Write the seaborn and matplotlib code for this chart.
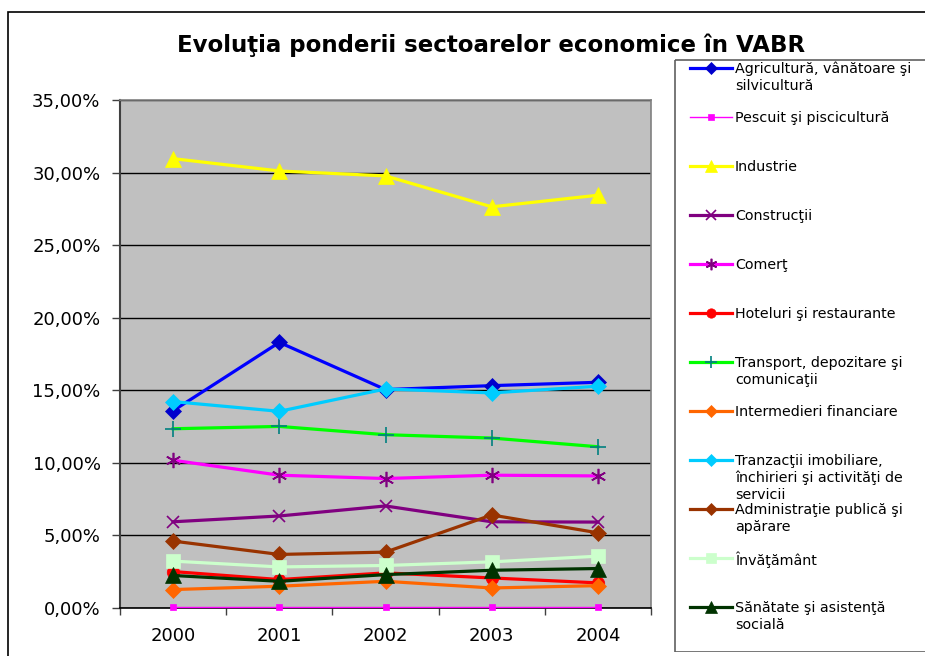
import numpy as np
import pandas as pd
import matplotlib
matplotlib.use("Agg")
import matplotlib.pyplot as plt
import seaborn as sns
from matplotlib.patches import Rectangle
from matplotlib.ticker import FixedLocator, FuncFormatter

# Data (share of gross value added, %)
years = ['2000', '2001', '2002', '2003', '2004']
agricultura = [13.59, 18.30, 15.05, 15.32, 15.55]
pescuit = [0.05, 0.05, 0.05, 0.05, 0.05]
industrie = [30.96, 30.11, 29.77, 27.64, 28.44]
constructii = [5.94, 6.34, 7.03, 5.94, 5.92]
comert = [10.18, 9.15, 8.92, 9.15, 9.10]
hoteluri = [2.51, 1.96, 2.42, 2.07, 1.73]
transport = [12.35, 12.51, 11.94, 11.71, 11.11]
intermedieri = [1.27, 1.50, 1.84, 1.38, 1.54]
tranzactii = [14.22, 13.55, 15.09, 14.82, 15.28]
administratie = [4.61, 3.69, 3.85, 6.41, 5.18]
invatamant = [3.23, 2.83, 2.93, 3.18, 3.57]
sanatate = [2.24, 1.84, 2.30, 2.60, 2.72]

labels = [
    "Agricultură, vânătoare şi\nsilvicultură",
    "Pescuit şi piscicultură",
    "Industrie",
    "Construcţii",
    "Comerţ",
    "Hoteluri şi restaurante",
    "Transport, depozitare şi\ncomunicaţii",
    "Intermedieri financiare",
    "Tranzacţii imobiliare,\nînchirieri şi activităţi de\nservicii",
    "Administraţie publică şi\napărare",
    "Învăţământ",
    "Sănătate şi asistenţă\nsocială",
]
series = [agricultura, pescuit, industrie, constructii, comert, hoteluri,
          transport, intermedieri, tranzactii, administratie, invatamant, sanatate]

# style per series: line colour, marker, marker colour, marker size, line width
styles = [
    ("#0000FF", "D", "#0000CC", 8, 2.3),
    ("#FF00FF", "s", "#FF00FF", 5, 1.0),
    ("#FFFF00", "^", "#FFFF00", 12, 2.3),
    ("#800080", "x", "#800080", 9, 2.3),
    ("#FF00FF", (6, 2, 0), "#800080", 11, 2.3),
    ("#FF0000", "o", "#FF0000", 9, 2.3),
    ("#00FF00", "+", "#008080", 11, 2.3),
    ("#FF6600", "D", "#FF6600", 8, 2.3),
    ("#00CCFF", "D", "#00CCFF", 8, 2.3),
    ("#993300", "D", "#993300", 8, 2.3),
    ("#CCFFCC", "s", "#CCFFCC", 10, 2.3),
    ("#003300", "^", "#003300", 12, 2.3),
]

plt.rcParams['font.family'] = ['DejaVu Sans']

W, H = 925, 656
fig = plt.figure(figsize=(W / 100, H / 100), dpi=100)

def px_rect(x0, y0, x1, y1):
    return [x0 / W, 1 - y1 / H, (x1 - x0) / W, (y1 - y0) / H]

# outer chart border
fig.patches.append(Rectangle((8 / W, -0.05), 1.1, 1 - 12 / H + 0.05,
                             transform=fig.transFigure, fill=False,
                             edgecolor='black', linewidth=1.2))

ax = fig.add_axes(px_rect(120, 100, 651, 608))
ax.set_facecolor('#C0C0C0')

for vals, (lc, mk, mc, ms, lw) in zip(series, styles):
    mew = 1.2 if mk in ("x", "+") or isinstance(mk, tuple) else 0.5
    sns.lineplot(x=years, y=vals, ax=ax, color=lc, linewidth=lw,
                 marker=mk, markersize=ms, markerfacecolor=mc,
                 markeredgecolor=mc, markeredgewidth=mew, sort=False,
                 clip_on=False, zorder=3)

ax.set_xlim(-0.5, 4.5)
ax.set_ylim(0, 35)
ax.set_xticks(range(len(years)))
ax.set_xticklabels(years)
ax.xaxis.set_minor_locator(FixedLocator(np.arange(-0.5, 5, 1.0)))
ax.tick_params(axis='x', which='major', length=0, pad=14, labelsize=13)
ax.tick_params(axis='x', which='minor', length=5, width=1, color='#404040', direction='out')
ax.set_yticks(np.arange(0, 36, 5))
ax.yaxis.set_major_formatter(FuncFormatter(lambda v, p: f"{v:.2f}%".replace('.', ',')))
ax.tick_params(axis='y', length=6, width=1, color='#404040', pad=8, labelsize=13)
ax.yaxis.grid(True, color='black', linewidth=1)
ax.set_axisbelow(True)
ax.set_xlabel('')
ax.set_ylabel('')
for side in ['top', 'right']:
    ax.spines[side].set_color('#808080')
    ax.spines[side].set_linewidth(1.2)
ax.spines['left'].set_color('#404040')
ax.spines['left'].set_linewidth(1.5)
ax.spines['bottom'].set_color('black')
ax.spines['bottom'].set_linewidth(1.2)

fig.text(491 / W, 1 - 45 / H, "Evoluţia ponderii sectoarelor economice în VABR",
         ha='center', va='center', fontsize=16.5, fontweight='bold')

# legend box drawn as its own axes in pixel units
lax = fig.add_axes(px_rect(674, 59, 940, 652))
lax.set_xlim(674, 940)
lax.set_ylim(652, 59)
lax.axis('off')
lax.add_patch(Rectangle((674.5, 59.5), 300, 592, fill=False,
                        edgecolor='#606060', linewidth=1.2))
y0, step = 68, 49
for i, (lab, (lc, mk, mc, ms, lw)) in enumerate(zip(labels, styles)):
    y = y0 + i * step
    mew = 1.2 if mk in ("x", "+") or isinstance(mk, tuple) else 0.5
    lax.plot([690, 732], [y, y], color=lc, linewidth=lw)
    lax.plot([711], [y], marker=mk, markersize=ms * 0.75, color=mc,
             markeredgecolor=mc, markeredgewidth=mew, linestyle='none')
    lax.text(735, y - 6, lab, ha='left', va='top', fontsize=10.3, linespacing=1.25)

fig.savefig('out.png', dpi=100)
